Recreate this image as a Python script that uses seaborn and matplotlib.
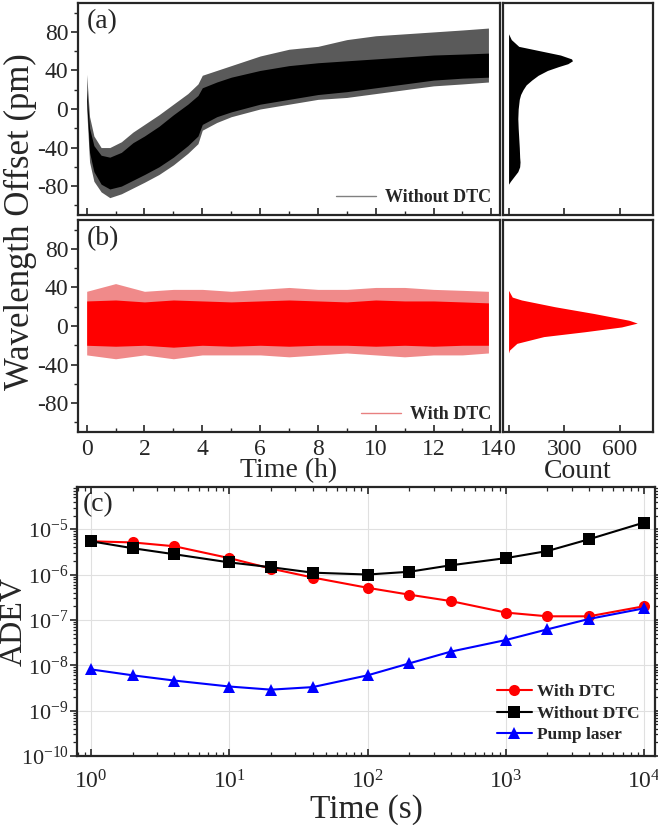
import matplotlib
matplotlib.use("Agg")
import matplotlib.pyplot as plt
import seaborn as sns
import pandas as pd
from matplotlib.lines import Line2D
from matplotlib.ticker import MultipleLocator

# ---- panel (a): without DTC, envelope of the noisy trace (pm) ----
t_a = [0.0, 0.1, 0.25, 0.5, 0.8, 1.2, 1.6, 2.0, 2.5, 3.0, 3.5, 3.85, 4.0, 4.5,
       5.0, 6.0, 7.0, 8.0, 9.0, 10.0, 11.0, 12.0, 13.0, 13.9]
core_hi_a = [20, -20, -38, -48, -50, -45, -35, -28, -18, -6, 5, 14, 22, 28,
             33, 40, 45, 48, 50, 52, 54, 56, 57, 58]
core_lo_a = [10, -45, -65, -78, -83, -80, -74, -68, -60, -50, -38, -28, -16, -8,
             -3, 5, 10, 15, 18, 22, 26, 30, 32, 33]
spike_hi_a = [36, -8, -28, -40, -40, -34, -24, -16, -6, 5, 16, 26, 35, 40,
              45, 55, 62, 65, 72, 76, 78, 80, 82, 84]
spike_lo_a = [0, -55, -75, -86, -92, -88, -82, -76, -68, -58, -46, -36, -22, -14,
              -8, 0, 5, 10, 12, 16, 20, 24, 26, 28]

# ---- panel (b): with DTC ----
t_b = [0, 1, 2, 3, 4, 5, 6, 7, 8, 9, 10, 11, 12, 13, 13.9]
core_hi_b = [26, 27, 25, 27, 26, 25, 26, 27, 26, 25, 27, 26, 26, 25, 24]
core_lo_b = [-20, -21, -20, -22, -20, -21, -20, -21, -20, -20, -21, -20, -21, -20, -20]
spike_hi_b = [36, 44, 36, 38, 38, 36, 38, 40, 38, 38, 40, 40, 38, 37, 36]
spike_lo_b = [-30, -34, -30, -34, -30, -30, -30, -32, -30, -28, -30, -32, -30, -30, -28]

# ---- histograms ----
hist_pm_a = [78, 72, 65, 60, 56, 52, 50, 47, 44, 40, 35, 30, 25, 20, 15, 10, 5, 0,
             -10, -20, -30, -40, -50, -55, -60, -65, -70, -75, -78]
hist_cnt_a = [0, 15, 55, 180, 280, 340, 345, 320, 270, 210, 160, 125, 95, 78, 65, 58, 55, 52,
              50, 52, 55, 58, 60, 62, 60, 50, 30, 10, 0]
hist_pm_b = [37, 30, 27, 20, 13, 6, 3, -1, -6, -11, -18, -25, -28]
hist_cnt_b = [0, 20, 70, 250, 460, 650, 695, 610, 410, 190, 45, 5, 0]

# ---- panel (c): Allan deviation ----
tau = [1, 2, 4, 10, 20, 40, 100, 200, 400, 1000, 2000, 4000, 10000]
adev_with = [5.4e-6, 5.1e-6, 4.2e-6, 2.3e-6, 1.35e-6, 8.6e-7, 5.1e-7, 3.6e-7, 2.6e-7,
             1.45e-7, 1.2e-7, 1.2e-7, 2.0e-7]
adev_without = [5.4e-6, 3.8e-6, 2.8e-6, 1.85e-6, 1.45e-6, 1.1e-6, 1.0e-6, 1.15e-6, 1.6e-6,
                2.3e-6, 3.3e-6, 6.0e-6, 1.4e-5]
adev_pump = [8.1e-9, 6.0e-9, 4.6e-9, 3.4e-9, 2.9e-9, 3.3e-9, 6.0e-9, 1.1e-8, 2.0e-8,
             3.6e-8, 6.2e-8, 1.05e-7, 1.8e-7]

sns.set_style("white")
plt.rcParams['font.family'] = ['Liberation Serif', 'DejaVu Serif']
plt.rcParams['mathtext.fontset'] = 'stix'
plt.rcParams['axes.unicode_minus'] = False
plt.rcParams['axes.linewidth'] = 1.6

fig = plt.figure(figsize=(6.58, 8.25), dpi=100)
W, H = 658, 825


def box(l, t, r, b):
    return [l / W, 1 - b / H, (r - l) / W, (b - t) / H]


ax_a = fig.add_axes(box(78, 3, 500, 215))
hx_a = fig.add_axes(box(503, 3, 653, 215))
ax_b = fig.add_axes(box(78, 220, 500, 432))
hx_b = fig.add_axes(box(503, 220, 653, 432))
ax_c = fig.add_axes(box(77, 487, 655, 756))

# time traces
ax_a.fill_between(t_a, spike_lo_a, spike_hi_a, color="#5a5a5a", lw=0)
ax_a.fill_between(t_a, core_lo_a, core_hi_a, color="black", lw=0)
ax_b.fill_between(t_b, spike_lo_b, spike_hi_b, color="#f08a8a", lw=0)
ax_b.fill_between(t_b, core_lo_b, core_hi_b, color="#ff0000", lw=0)

for ax, lab, lcol, txt in [(ax_a, "(a)", "#808080", "Without DTC"),
                           (ax_b, "(b)", "#e88080", "With DTC")]:
    ax.set_xlim(-0.3, 14.3)
    ax.set_ylim(-110, 110)
    ax.set_yticks([-80, -40, 0, 40, 80])
    ax.yaxis.set_minor_locator(MultipleLocator(20))
    ax.xaxis.set_major_locator(MultipleLocator(2))
    ax.xaxis.set_minor_locator(MultipleLocator(1))
    ax.tick_params(axis="x", which="both", direction="in", bottom=True, labelsize=17, pad=5)
    ax.tick_params(axis="x", which="major", length=5, width=1.2)
    ax.tick_params(axis="x", which="minor", length=3, width=1.0)
    ax.tick_params(axis="y", which="both", direction="out", left=True, labelsize=17, pad=2)
    ax.tick_params(axis="y", which="major", length=5, width=1.2)
    ax.tick_params(axis="y", which="minor", length=3, width=1.0)
    ax.text(0.02, 0.97, lab, transform=ax.transAxes, fontsize=20, va="top", ha="left")
    ax.legend(handles=[Line2D([], [], color=lcol, lw=1)], labels=[txt],
              loc="lower right", frameon=False, handlelength=2.2,
              prop={"weight": "bold", "size": 13}, borderaxespad=0.1,
              handletextpad=0.5)

ax_a.tick_params(axis="x", labelbottom=False)
ax_b.set_xlabel("Time (h)", fontsize=20, labelpad=-1)

# histograms
hx_a.fill_betweenx(hist_pm_a, 0, hist_cnt_a, color="black", lw=0)
hx_b.fill_betweenx(hist_pm_b, 0, hist_cnt_b, color="#ff0000", lw=0)
for hx in (hx_a, hx_b):
    hx.set_xlim(-30, 780)
    hx.set_ylim(-110, 110)
    hx.set_yticks([])
    hx.set_xticks([0, 300, 600])
    hx.tick_params(axis="x", direction="in", bottom=True, length=5, width=1.2,
                   labelsize=17, pad=5)
hx_a.tick_params(axis="x", labelbottom=False)
hx_b.set_xlabel("Count", fontsize=20, labelpad=-1)

fig.text(20 / W, 1 - 222 / H, "Wavelength Offset (pm)", rotation=90,
         ha="center", va="center", fontsize=25)

# Allan deviation
df = pd.DataFrame({"tau": tau * 3,
                   "adev": adev_with + adev_without + adev_pump,
                   "series": ["With DTC"] * 13 + ["Without DTC"] * 13 + ["Pump laser"] * 13})
styles = {"With DTC": ("#ff0000", "o"), "Without DTC": ("black", "s"),
          "Pump laser": ("#0000ff", "^")}
for name, (col, mk) in styles.items():
    sub = df[df["series"] == name]
    sns.lineplot(data=sub, x="tau", y="adev", ax=ax_c, color=col, marker=mk,
                 markersize=8, markeredgewidth=0, lw=1.5, label=name)
ax_c.set_xscale("log")
ax_c.set_yscale("log")
ax_c.set_xlim(0.79, 1.2e4)
ax_c.set_ylim(1e-10, 8.5e-5)
ax_c.set_yticks([1e-10, 1e-9, 1e-8, 1e-7, 1e-6, 1e-5])
ax_c.grid(True, which="major", color="#e0e0e0", lw=0.8)
ax_c.tick_params(axis="x", which="both", direction="in", top=True, bottom=True,
                 labelsize=17, pad=10)
ax_c.tick_params(axis="y", which="both", direction="out", left=True, right=True,
                 labelsize=16, pad=1)
ax_c.tick_params(which="major", length=5, width=1.2)
ax_c.tick_params(which="minor", length=3, width=0.9)
ax_c.set_xlabel("Time (s)", fontsize=24, labelpad=1)
ax_c.set_ylabel("ADEV", fontsize=23)
ax_c.yaxis.set_label_coords(-0.083, 0.5)
ax_c.text(0.01, 0.98, "(c)", transform=ax_c.transAxes, fontsize=20, va="top", ha="left")
ax_c.legend(loc="lower right", frameon=False, prop={"weight": "bold", "size": 12.5},
            handlelength=2.0, handletextpad=0.3, labelspacing=0.3,
            bbox_to_anchor=(1.0, -0.01))

fig.savefig("out.png", dpi=100)
